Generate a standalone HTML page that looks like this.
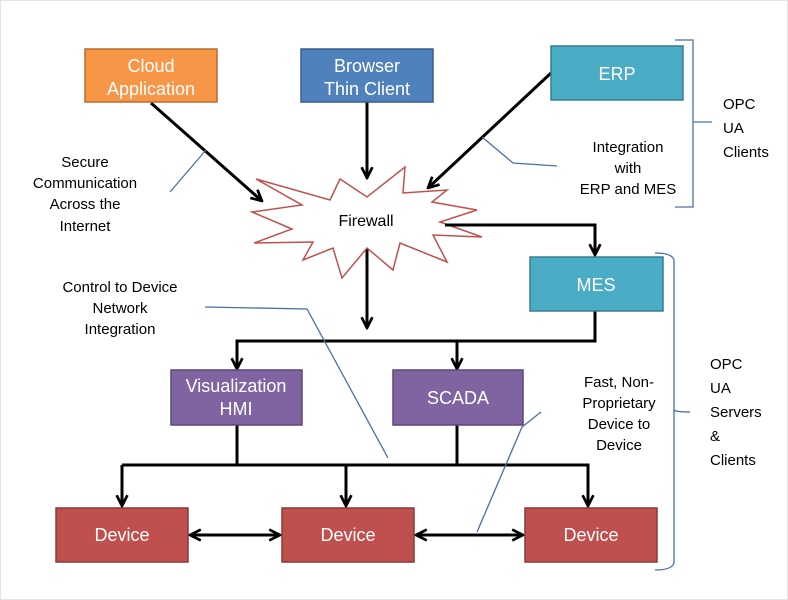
<!DOCTYPE html>
<html><head><meta charset="utf-8"><style>
html,body{margin:0;padding:0;background:#fff;overflow:hidden}
svg{display:block}
text{font-family:"Liberation Sans",sans-serif}
</style></head><body>
<svg width="788" height="600" viewBox="0 0 788 600" xmlns="http://www.w3.org/2000/svg">
<defs>
<marker id="a" viewBox="0 0 10 10" refX="9" refY="5" markerWidth="4.5" markerHeight="4.5" orient="auto-start-reverse" markerUnits="strokeWidth">
<path d="M1,1 L9,5 L1,9" fill="none" stroke="#000" stroke-width="2"/>
</marker>
</defs>
<rect x="0.5" y="0.5" width="787" height="599" fill="none" stroke="#e4e4e4"/>
<g stroke="#000" stroke-width="3" fill="none">
<line x1="151" y1="103" x2="262" y2="201" marker-end="url(#a)"/>
<line x1="367" y1="102" x2="367" y2="178" marker-end="url(#a)"/>
<line x1="551" y1="73" x2="428" y2="188" marker-end="url(#a)"/>
<polyline points="445,225 595,225 595,255" marker-end="url(#a)"/>
<line x1="367" y1="248" x2="367" y2="328" marker-end="url(#a)"/>
<polyline points="595,311 595,341 237,341 237,369" marker-end="url(#a)"/>
<line x1="457" y1="341" x2="457" y2="369" marker-end="url(#a)"/>
<line x1="237" y1="425" x2="237" y2="465"/>
<line x1="457" y1="425" x2="457" y2="465"/>
<polyline points="122,465 588,465 588,506" marker-end="url(#a)"/>
<line x1="122" y1="465" x2="122" y2="506" marker-end="url(#a)"/>
<line x1="346" y1="465" x2="346" y2="506" marker-end="url(#a)"/>
<line x1="190" y1="535" x2="280" y2="535" marker-start="url(#a)" marker-end="url(#a)"/>
<line x1="416" y1="535" x2="523" y2="535" marker-start="url(#a)" marker-end="url(#a)"/>
</g>
<polygon points="256,179 330,200 340,179 367,197 405,167 403,193 447,190 432,202 477,210 440,222 482,237 433,235 447,262 400,243 393,270 367,248 342,278 333,248 303,260 313,242 254,243 292,229 252,212 302,205" fill="#fff" stroke="#c0504d" stroke-width="1.5"/>
<line x1="445" y1="225" x2="470" y2="225" stroke="#000" stroke-width="3"/>
<text x="366" y="226" font-size="16" text-anchor="middle">Firewall</text>
<g stroke-width="1.5">
<rect x="85" y="49" width="132" height="53" fill="#f79646" stroke="#b66d31"/>
<rect x="301" y="49" width="132" height="53" fill="#4f81bd" stroke="#385d8a"/>
<rect x="551" y="46" width="132" height="54" fill="#4bacc6" stroke="#357d91"/>
<rect x="530" y="257" width="133" height="54" fill="#4bacc6" stroke="#357d91"/>
<rect x="171" y="370" width="131" height="55" fill="#8064a2" stroke="#5c4776"/>
<rect x="393" y="370" width="130" height="55" fill="#8064a2" stroke="#5c4776"/>
<rect x="56" y="508" width="132" height="54" fill="#c0504d" stroke="#8c3836"/>
<rect x="282" y="508" width="132" height="54" fill="#c0504d" stroke="#8c3836"/>
<rect x="525" y="508" width="132" height="54" fill="#c0504d" stroke="#8c3836"/>
</g>
<g fill="#fff" font-size="18" text-anchor="middle">
<text x="151" y="72">Cloud</text><text x="151" y="95">Application</text>
<text x="367" y="72">Browser</text><text x="367" y="95">Thin Client</text>
<text x="617" y="80">ERP</text>
<text x="596" y="291">MES</text>
<text x="236" y="392">Visualization</text><text x="236" y="415">HMI</text>
<text x="458" y="404">SCADA</text>
<text x="122" y="541">Device</text><text x="348" y="541">Device</text><text x="591" y="541">Device</text>
</g>
<g stroke="#4a6fa5" stroke-width="1.3" fill="none">
<line x1="170" y1="192" x2="206" y2="150"/>
<polyline points="205,307 307,309 388,458"/>
<polyline points="482,137 513,163 557,166"/>
<polyline points="477,532 522,427 541,412"/>
<polyline points="675,40 693,40 693,207 675,207"/>
<line x1="693" y1="122" x2="712" y2="122"/>
<path d="M655,253 Q672,253 674,260 L674,563 Q672,570 655,570"/>
<path d="M674,410 Q676,412 690,412"/>
</g>
<g font-size="15" text-anchor="middle" fill="#000">
<text x="85" y="167">Secure</text><text x="85" y="188">Communication</text><text x="85" y="209">Across the</text><text x="85" y="231">Internet</text>
<text x="120" y="292">Control to Device</text><text x="120" y="313">Network</text><text x="120" y="334">Integration</text>
<text x="628" y="152">Integration</text><text x="628" y="173">with</text><text x="628" y="194">ERP and MES</text>
<text x="619" y="387">Fast, Non-</text><text x="619" y="408">Proprietary</text><text x="619" y="429">Device to</text><text x="619" y="450">Device</text>
</g>
<g font-size="15" fill="#000">
<text x="723" y="109">OPC</text><text x="723" y="133">UA</text><text x="723" y="157">Clients</text>
<text x="710" y="369">OPC</text><text x="710" y="393">UA</text><text x="710" y="417">Servers</text><text x="710" y="441">&amp;</text><text x="710" y="465">Clients</text>
</g>
</svg>
</body></html>
